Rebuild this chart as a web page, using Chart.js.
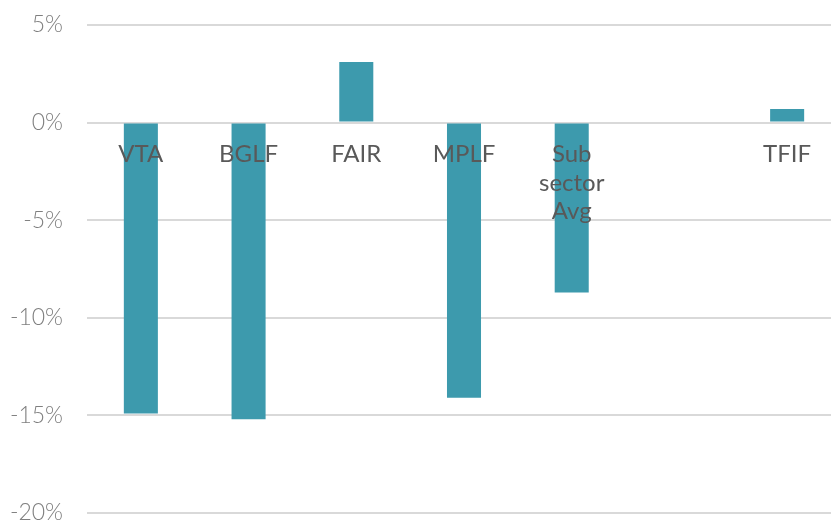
<!DOCTYPE html>
<html><head><meta charset="utf-8"><title>Returns</title>
<script src="https://cdn.jsdelivr.net/npm/chart.js@4"></script>
<style>
html,body{margin:0;padding:0;background:#fff;overflow:hidden;}
#wrap{width:841px;height:523px;}
</style></head>
<body>
<div id="wrap"><canvas id="chart"></canvas></div>
<script>
const categories = ['VTA', 'BGLF', 'FAIR', 'MPLF', ['Sub', 'sector', 'Avg'], '', 'TFIF'];
const values = [-14.9, -15.2, 3.1, -14.1, -8.7, null, 0.7];
const yTicks = [5, 0, -5, -10, -15, -20];

new Chart(document.getElementById('chart'), {
  type: 'bar',
  data: {
    labels: categories,
    datasets: [{
      data: values,
      backgroundColor: '#3d9aad',
      categoryPercentage: 1,
      barPercentage: 0.316
    }]
  },
  options: {
    responsive: true,
    maintainAspectRatio: false,
    animation: false,
    layout: { padding: { top: 25, bottom: 10, left: 0, right: 0 } },
    plugins: { legend: { display: false }, tooltip: { enabled: false } },
    scales: {
      x: {
        position: { y: 0 },
        grid: { display: false, drawTicks: false },
        border: { display: false },
        ticks: {
          z: 1,
          color: '#595959',
          font: { family: 'Lato', size: 24, lineHeight: 1.18 },
          padding: 18,
          maxRotation: 0,
          autoSkip: false
        }
      },
      y: {
        min: Math.min(...yTicks),
        max: Math.max(...yTicks),
        afterBuildTicks: s => { s.ticks = yTicks.map(v => ({ value: v })); },
        afterFit: s => { s.width = 87; s.paddingTop = 0; s.paddingBottom = 0; },
        grid: { color: '#d9d9d9', lineWidth: 2, drawTicks: false },
        border: { display: false },
        ticks: {
          color: '#7f7f7f',
          font: { family: 'Lato', size: 23, weight: 300 },
          padding: 24,
          callback: v => v + '%'
        }
      }
    }
  }
});
</script>
</body></html>
